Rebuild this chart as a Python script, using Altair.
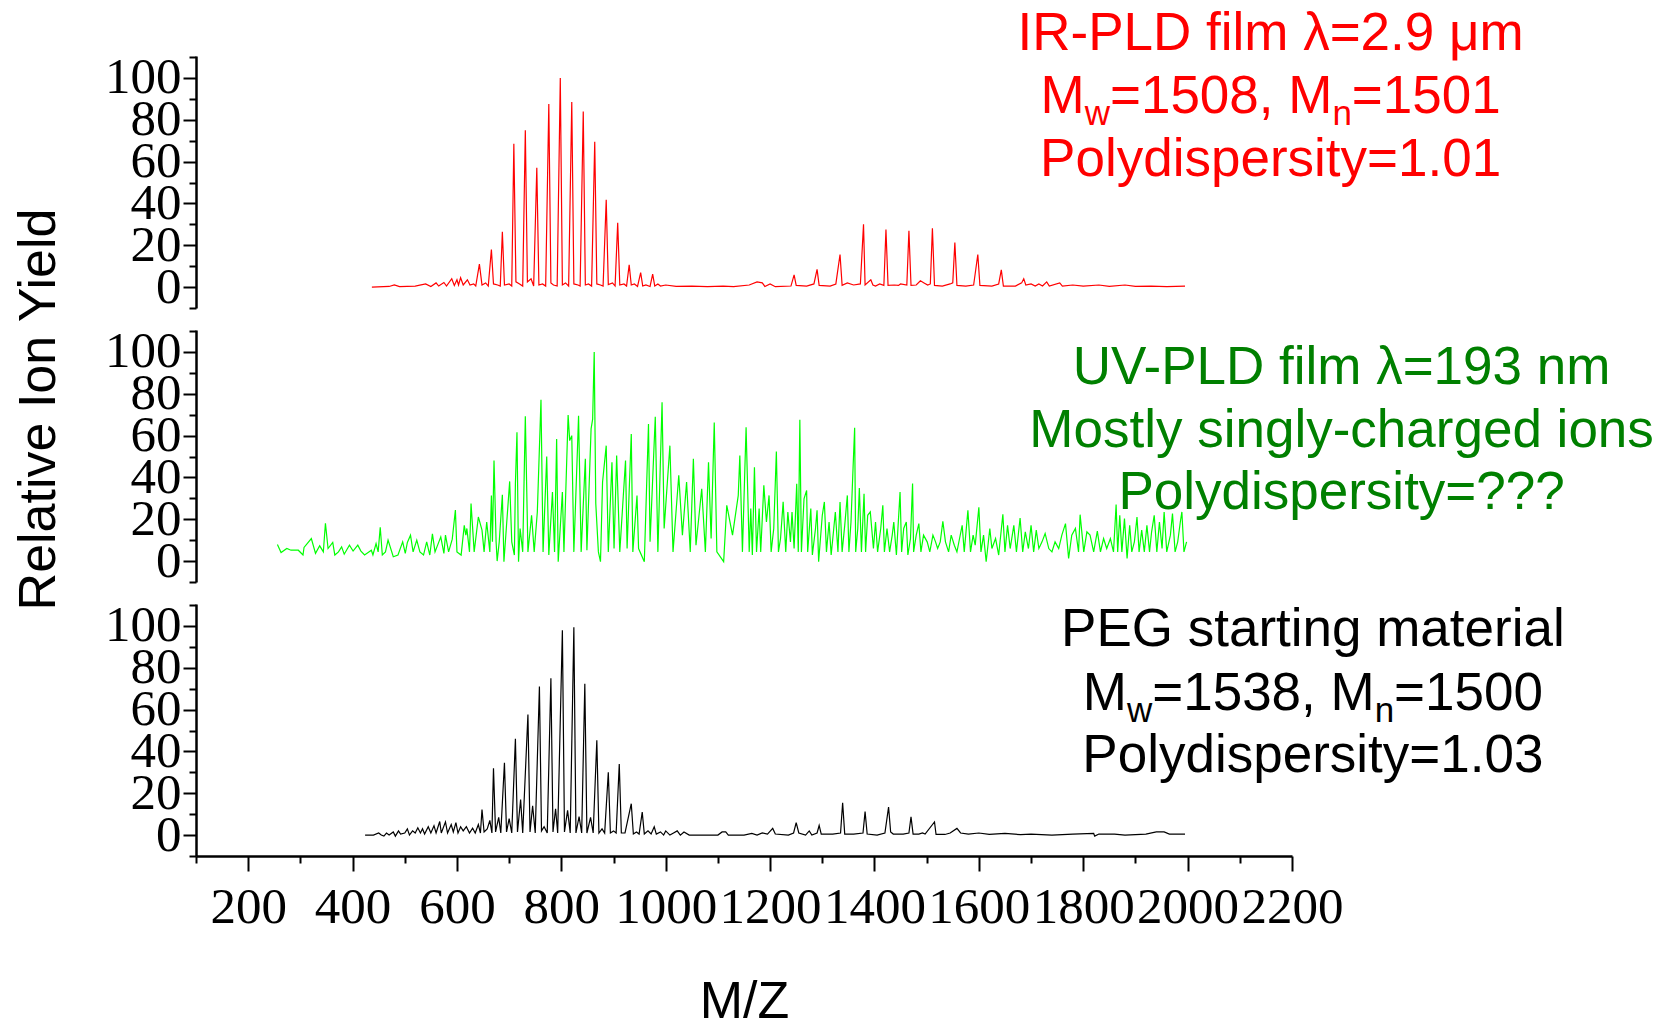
import altair as alt
import pandas as pd

# ---------------- data ----------------
red_mz = [437, 470, 480, 490, 520, 540, 550, 560, 565, 575, 580, 590, 595, 600, 603, 607, 612, 620, 625, 632, 636,
          643, 648, 655, 660, 666, 670, 678, 683, 687, 691, 700, 705, 709, 713, 720, 726, 731, 735, 742, 747,
          753, 757, 764, 770, 776, 780, 785, 792, 798, 802, 808, 814, 820, 824, 832, 836, 842, 846, 852, 858,
          864, 868, 875, 880, 886, 890, 898, 903, 908, 912, 920, 925, 930, 934, 940, 946, 952, 956, 962, 970,
          975, 979, 985, 990, 1000, 1020, 1050, 1080, 1110, 1130, 1160, 1175, 1185, 1190, 1200, 1210, 1240,
          1246, 1250, 1270, 1284, 1290, 1294, 1315, 1326, 1334, 1338, 1348, 1360, 1373, 1379, 1382, 1393, 1397,
          1402, 1410, 1418, 1422, 1426, 1438, 1446, 1450, 1462, 1466, 1470, 1480, 1488, 1495, 1502, 1507, 1511,
          1515, 1530, 1545, 1550, 1554, 1558, 1575, 1590, 1598, 1602, 1625, 1638, 1643, 1647, 1670, 1682, 1686,
          1690, 1700, 1708, 1715, 1722, 1730, 1735, 1755, 1760, 1780, 1800, 1830, 1850, 1880, 1900, 1930, 1960, 1995]
red_y = [0, 0.3, 1, 0.2, 0.5, 1.5, 0.3, 2, 0.5, 2.2, 0.5, 4, 0.8, 3.5, 1, 4.5, 1, 3.5, 1, 1.5, 0.5,
         11, 1, 2, 0.5, 18, 1.5, 1, 0.5, 26.5, 1, 1.5, 0.5, 68.5, 2.5, 1.5, 0.5, 75, 2.5, 4, 0.5,
         57, 1, 1.5, 0.5, 87.5, 2, 1, 0.5, 100, 1, 2, 0.5, 88.5, 1.5, 1, 0.5, 84, 1, 1.5, 0.5,
         69.5, 1.5, 1, 0.5, 41.8, 1.2, 2, 0.5, 30.8, 1, 1.5, 0.5, 10.7, 1, 1.5, 0.3, 6.9, 0.5, 1, 0.3,
         6.2, 0.5, 1.5, 0.5, 1, 0.3, 0.5, 0.2, 0.5, 0.2, 1, 2.5, 2, 0.3, 1.5, 0.2, 0.5,
         5.8, 0.8, 0.5, 1.5, 8.5, 0.8, 0.5, 1.5, 15.6, 0.8, 2, 1, 1.5, 30, 1, 3.5, 1,
         0.5, 1.5, 0.8, 27.5, 0.8, 1, 0.8, 1.5, 1, 26.9, 0.8, 1, 3, 2, 1, 1.5, 28.1,
         0.8, 0.5, 1.5, 2, 21.3, 0.8, 0.5, 1, 15.6, 0.8, 0.5, 1.5, 8.2, 0.5, 0.5, 2, 4,
         1, 1.5, 0.5, 1.5, 0.5, 2.5, 0.5, 2, 0.5, 1, 0.5, 1, 0.3, 1, 0.3, 0.5, 0.2, 0.5]

green_mz = [256, 263, 274, 282, 296, 305, 307, 321, 329, 337, 344, 348, 353, 362, 366, 373, 379, 384, 394, 401,
            410, 416, 423, 436, 439, 445, 449, 453, 457, 463, 468, 478, 487, 496, 501, 505, 511, 516, 523, 529,
            536, 542, 548, 553, 558, 569, 575, 578, 584, 591, 597, 600, 608, 614, 617, 619, 624, 627, 633, 641,
            648, 652, 657, 663, 666, 668, 671, 675, 677, 681, 687, 690, 695, 701, 705, 710, 712, 715, 718, 721,
            726, 731, 736, 743, 748, 754, 761, 765, 772, 776, 783, 787, 791, 794, 802, 805, 813, 816, 820, 824,
            831, 833, 838, 846, 849, 857, 860, 863, 866, 871, 875, 879, 886, 890, 897, 901, 906, 912, 923, 926,
            934, 937, 945, 948, 959, 967, 970, 980, 985, 993, 997, 1008, 1014, 1025, 1032, 1040, 1047, 1053, 1058,
            1069, 1076, 1082, 1087, 1093, 1098, 1111, 1117, 1128, 1139, 1142, 1147, 1154, 1160, 1163, 1166, 1170,
            1174, 1179, 1182, 1188, 1193, 1198, 1202, 1207, 1212, 1216, 1220, 1225, 1230, 1234, 1239, 1242, 1246,
            1251, 1254, 1257, 1260, 1265, 1270, 1272, 1278, 1281, 1287, 1290, 1293, 1300, 1304, 1308, 1313, 1317,
            1322, 1325, 1330, 1334, 1338, 1343, 1348, 1351, 1355, 1359, 1362, 1364, 1368, 1371, 1375, 1380, 1383,
            1387, 1392, 1398, 1402, 1406, 1412, 1416, 1419, 1424, 1429, 1434, 1437, 1442, 1449, 1452, 1456, 1461,
            1464, 1469, 1473, 1475, 1480, 1485, 1489, 1494, 1501, 1506, 1512, 1517, 1521, 1526, 1531, 1536, 1542,
            1547, 1553, 1558, 1563, 1568, 1572, 1579, 1584, 1589, 1593, 1600, 1604, 1609, 1614, 1621, 1625, 1632,
            1638, 1646, 1650, 1655, 1660, 1667, 1672, 1679, 1684, 1689, 1695, 1700, 1705, 1710, 1715, 1721, 1727,
            1734, 1740, 1746, 1753, 1759, 1766, 1772, 1778, 1785, 1791, 1794, 1801, 1807, 1813, 1820, 1827, 1833,
            1839, 1845, 1852, 1858, 1863, 1866, 1870, 1874, 1879, 1884, 1889, 1893, 1898, 1903, 1907, 1912, 1917,
            1922, 1927, 1931, 1936, 1941, 1946, 1951, 1955, 1960, 1967, 1971, 1976, 1981, 1986, 1989, 1993, 1998]
green_y = [7.9, 4.1, 6.0, 5.2, 5.2, 2.9, 6.5, 10.8, 3.7, 7.3, 4.4, 18.1, 6.0, 8.9, 2.9, 4.4, 6.8, 3.3, 7.6, 4.8,
           7.6, 4.8, 2.9, 5.2, 2.9, 8.4, 4.4, 16.2, 2.9, 4.4, 10.0, 2.1, 2.9, 9.2, 3.7, 8.9, 12.4, 4.4, 10.0, 4.4,
           2.9, 9.2, 2.9, 13.0, 4.4, 11.6, 3.7, 12.4, 4.4, 10.5, 24.4, 4.4, 2.9, 17.1, 12.4, 15.6, 4.4, 27.5, 4.4, 21.1,
           14.8, 4.4, 18.7, 4.4, 31.4, 9.2, 48.1, 9.2, 0, 9.2, 31.7, -0.3, 17.1, 38.1, 9.2, 2.9, 37.0, 61.6, -0.3, 15.6,
           4.4, 69.2, 4.4, 21.9, 4.4, 23.5, 77.1, 4.4, 50.0, 2.9, 33.0, 4.4, 58.4, -0.3, 33.0, 4.4, 69.8, 57.6, 60.0, 4.4,
           54.4, 69.5, 4.4, 48.9, 5.2, 63.2, 67.9, 100, 27.5, 4.4, -0.3, 37.8, 55.2, 4.4, 47.3, 6.0, 50.5, 4.4, 48.1, 6.0,
           60.8, 4.4, 31.4, 6.0, -0.3, 65.6, 9.2, 69.0, 4.4, 75.9, 15.6, 55.2, 4.4, 41.0, 12.4, 37.8, 4.4, 48.9, 7.6,
           34.6, 4.4, 47.3, 10.8, 66.3, 4.4, -0.3, 26.7, 12.4, 31.4, 50.5, 4.4, 64.0, 4.4, 25.1, 2.9, 44.9,
           4.4, 25.1, 4.4, 36.2, 18.7, 31.4, 4.4, 15.6, 52.4, 4.4, 10.8, 28.3, 4.4, 23.5, 9.2, 23.5, 6.0,
           37.0, 4.4, 67.6, 4.4, 29.8, 33.8, 4.4, 25.1, 2.9, 15.6, 24.3, -0.3, 21.9, 28.3, 4.4, 18.7, 2.9,
           15.6, 23.5, 4.4, 28.3, 4.4, 17.1, 31.4, 4.4, 18.7, 44.8, 63.8, 4.4, 15.6, 34.9, 4.4, 32.2, 4.4,
           21.9, 23.5, 6.0, 18.7, 4.4, 15.6, 26.7, 4.4, 15.6, 4.4, 12.4, 18.7, 2.9, 33.0, 4.4, 15.6, 18.7,
           2.9, 10.8, 37.1, 4.4, 12.4, 17.9, 4.4, 12.4, 9.2, 4.4, 12.4, 9.2, 6.0, 9.2, 19.0, 9.2, 4.4,
           12.4, 7.6, 4.4, 10.8, 17.1, 4.4, 24.3, 4.4, 12.4, 7.6, 25.7, 4.4, 12.4, -0.3, 15.6, 6.0, 10.8,
           2.9, 22.4, 4.4, 17.1, 6.0, 17.1, 4.4, 20.6, 4.4, 14.0, 6.0, 17.1, 4.4, 14.8, 6.0, 9.2, 13.2,
           6.0, 4.4, 9.2, 6.0, 12.4, 17.9, 1.3, 12.4, 15.6, 4.4, 22.2, 4.4, 14.0, 12.4, 4.4, 14.3, 4.4,
           10.8, 6.0, 10.8, 4.4, 27.0, 4.4, 21.9, 4.4, 20.3, 1.3, 17.1, 4.4, 9.2, 21.1, 4.4, 14.8, 4.4,
           17.1, 4.4, 14.0, 21.9, 4.4, 18.7, 6.0, 23.5, 4.4, 12.4, 22.7, 4.4, 9.2, 18.7, 23.5, 4.4, 9.2]

black_mz = [424, 440, 450, 455, 460, 465, 470, 478, 482, 488, 492, 500, 505, 509, 515, 520, 525, 530, 534, 538,
            545, 550, 556, 560, 567, 570, 578, 582, 589, 593, 598, 602, 607, 612, 618, 624, 630, 635, 641, 645,
            648, 652, 658, 663, 667, 670, 674, 680, 684, 691, 695, 700, 705, 712, 716, 722, 726, 736, 740, 745,
            750, 758, 762, 767, 773, 780, 784, 789, 793, 802, 806, 812, 817, 824, 828, 834, 839, 845, 849, 856,
            861, 868, 872, 878, 883, 890, 894, 900, 905, 911, 915, 922, 934, 938, 944, 949, 955, 959, 966, 972,
            978, 982, 990, 996, 1000, 1008, 1015, 1022, 1028, 1035, 1045, 1070, 1100, 1108, 1115, 1120, 1150,
            1165, 1175, 1185, 1195, 1205, 1210, 1235, 1245, 1250, 1255, 1268, 1275, 1280, 1290, 1294, 1298,
            1320, 1335, 1339, 1343, 1360, 1378, 1382, 1386, 1405, 1420, 1427, 1431, 1436, 1455, 1466, 1470,
            1474, 1485, 1492, 1497, 1515, 1518, 1535, 1545, 1558, 1565, 1580, 1600, 1620, 1650, 1680, 1700,
            1740, 1780, 1820, 1822, 1830, 1860, 1880, 1920, 1940, 1955, 1965, 1995]
black_y = [0, 0, 1, 0, -0.5, 1, 0, 1.5, -0.5, 2, 0.5, 1, 3, 0, 2, 1, 3.5, 1, 3, 0.5,
           4, 1, 4.5, 1, 6.5, 1, 6.3, 1, 5, 1.5, 6, 1, 4, 2, 4, 1, 3.3, 1, 5, 1,
           12.2, 1.5, 3, 7, 1, 32, 1.5, 8.5, 1, 34.6, 1.5, 7.9, 1, 46, 1.5, 17, 1, 57.7, 1.5, 14,
           1, 71, 2, 4, 1, 75, 1.5, 12.6, 1, 98, 1.5, 11.8, 1, 99.4, 1, 8.8, 1, 72.4, 1, 8.5,
           1, 45.3, 1, 3, 1, 30, 1, 2, 1, 34, 1, 1, 15, 0.5, 1.5, 0.5, 11, 0.5, 2, 0.5,
           4, 0.5, 1.5, 0, 2, 0, 1, 2, 0, 1.5, 0, 0, 0, 1.5, 1.5, 0, 0,
           0.8, 0, 1, 0.5, 3.2, 0.5, 0, 1, 6, 1, 0, 2, 0, 1, 4.6, 0.5,
           0.5, 1, 15.5, 0.5, 0.5, 1, 11.2, 0.5, 0, 1, 13.4, 1.5, 0.5, 0.5, 1, 8.7,
           0.5, 0.5, 1, 0.5, 6.3, 0.3, 0.3, 1, 3.2, 1, 0.5, 1, 0.3, 0.8, 0.2, 0.5,
           0, 0.5, 0.8, -0.5, 0.5, 0.5, 0, 0.5, 1.5, 1.5, 0.5, 0.5]

# annotation text, one list per panel (tuples = pieces, True marks a subscript)
top_lines = ["IR-PLD film \u03bb=2.9 \u03bcm",
             [("M", False), ("w", True), ("=1508, M", False), ("n", True), ("=1501", False)],
             "Polydispersity=1.01"]
mid_lines = ["UV-PLD film \u03bb=193 nm", "Mostly singly-charged ions", "Polydispersity=???"]
bot_lines = ["PEG starting material",
             [("M", False), ("w", True), ("=1538, M", False), ("n", True), ("=1500", False)],
             "Polydispersity=1.03"]
# anchor (m/z of line centre) and baselines (relative ion yield units)
top_anchor, top_ys = 2159, [113.5, 83.3, 53.2]
mid_anchor, mid_ys = 2295, [84.5, 54.7, 24.9]
bot_anchor, bot_ys = 2240, [90.3, 59.8, 30.3]

# ---------------- style ----------------
W, H = 1096, 252
X_DOMAIN = [100, 2200]
Y_DOMAIN = [-10, 110.5]
SANS = "Liberation Sans"
SERIF = "Liberation Serif"
FS = 53
SUB_FS = 35
SUB_DY = 12

ARIAL = {"M": .833, "w": .722, "n": .556, "=": .584, ",": .278, " ": .278}
for d in "0123456789":
    ARIAL[d] = .556


def text_width(s, size):
    return sum(ARIAL.get(c, .556) for c in s) * size


xscale = alt.Scale(domain=X_DOMAIN, nice=False, zero=False)
yscale = alt.Scale(domain=Y_DOMAIN, nice=False, zero=False)


def y_axis(title=None):
    kw = dict(
        values=list(range(-10, 111, 10)),
        labelExpr="(datum.value % 20 === 0 && datum.value >= 0) ? datum.label : ''",
        labelFont=SERIF, labelFontSize=51, labelColor="black", labelPadding=2,
        labelOverlap=False, labelFlush=False,
        tickSize={"condition": {"test": "datum.value % 20 === 0 && datum.value >= 0", "value": 13}, "value": 7},
        tickWidth=2, tickColor="black", domainColor="black", domainWidth=2.5, grid=False,
    )
    if title:
        kw.update(title=title, titleFont=SANS, titleFontSize=52, titleFontWeight="normal",
                  titleColor="black", titleAngle=270, titleX=-158, titleY=79,
                  titleAlign="center", titleBaseline="middle")
    else:
        kw.update(title=None)
    return alt.Axis(**kw)


def x_axis():
    return alt.Axis(
        values=list(range(100, 2201, 100)), format="d",
        labelExpr="datum.value % 200 === 0 ? datum.label : ''",
        labelFont=SERIF, labelFontSize=51, labelColor="black", labelPadding=11,
        labelOverlap=False, labelFlush=False,
        tickSize={"condition": {"test": "datum.value % 200 === 0", "value": 15}, "value": 7},
        tickWidth=2, tickColor="black", domainColor="black", domainWidth=2.5, grid=False,
        title="M/Z", titleFont=SANS, titleFontSize=52, titleFontWeight="normal",
        titleColor="black", titlePadding=44,
    )


def spectrum(mz, y, color, xaxis, yaxis):
    df = pd.DataFrame({"mz": mz, "y": y})
    return alt.Chart(df).mark_line(color=color, strokeWidth=1.2).encode(
        x=alt.X("mz:Q", scale=xscale, axis=xaxis),
        y=alt.Y("y:Q", scale=yscale, axis=yaxis),
    )


def text_layers(anchor, ys, lines, color, xaxis, yaxis):
    layers = []
    for yv, line in zip(ys, lines):
        pieces = [(line, False)] if isinstance(line, str) else line
        if len(pieces) == 1:
            df = pd.DataFrame({"x": [anchor], "y": [yv], "t": [pieces[0][0]]})
            layers.append(alt.Chart(df).mark_text(
                align="center", baseline="alphabetic", font=SANS, fontSize=FS, color=color
            ).encode(x=alt.X("x:Q", scale=xscale, axis=xaxis),
                     y=alt.Y("y:Q", scale=yscale, axis=yaxis), text="t:N"))
            continue
        total = sum(text_width(t, SUB_FS if sub else FS) for t, sub in pieces)
        off = -total / 2
        for t, sub in pieces:
            size = SUB_FS if sub else FS
            df = pd.DataFrame({"x": [anchor], "y": [yv], "t": [t]})
            layers.append(alt.Chart(df).mark_text(
                align="left", baseline="alphabetic", font=SANS, fontSize=size, color=color,
                dx=off, dy=SUB_DY if sub else 0
            ).encode(x=alt.X("x:Q", scale=xscale, axis=xaxis),
                     y=alt.Y("y:Q", scale=yscale, axis=yaxis), text="t:N"))
            off += text_width(t, size)
    return layers


def panel(mz, y, line_color, lines, anchor, ys, text_color, xaxis_fn, ytitle=None):
    xa = xaxis_fn() if xaxis_fn else None
    ya = y_axis(ytitle)
    return alt.layer(
        spectrum(mz, y, line_color, xa, ya),
        *text_layers(anchor, ys, lines, text_color, xa, ya),
    ).properties(width=W, height=H)


top = panel(red_mz, red_y, "#ff0000", top_lines, top_anchor, top_ys, "#ff0000", None)
mid = panel(green_mz, green_y, "#00ff00", mid_lines, mid_anchor, mid_ys, "#008000", None, "Relative Ion Yield")
bot = panel(black_mz, black_y, "#000000", bot_lines, bot_anchor, bot_ys, "#000000", x_axis)

chart = alt.vconcat(top, mid, bot, spacing=22, bounds="flush").properties(
    padding={"left": 11, "top": 7, "right": 5, "bottom": 0},
    background="white",
).configure_view(stroke=None)

chart.save("out.html", embed_options={"renderer": "svg", "actions": False})
